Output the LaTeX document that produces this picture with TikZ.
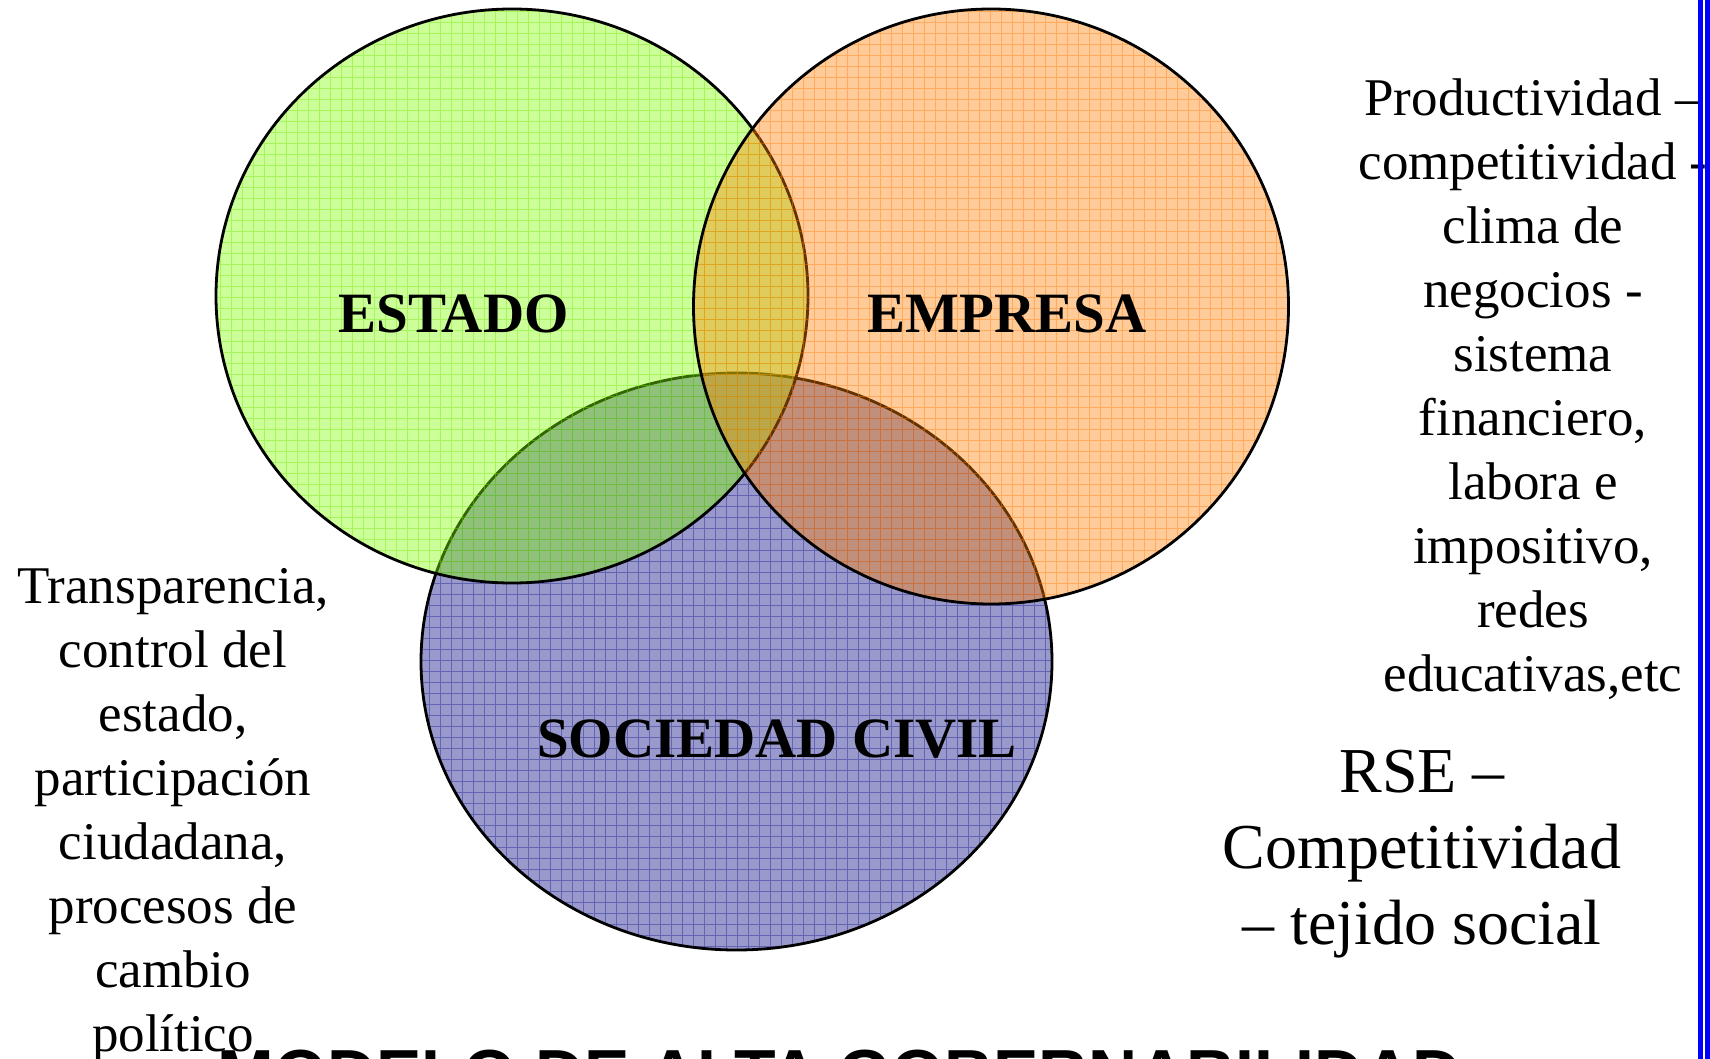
\documentclass[tikz,border=0pt]{standalone}
\usepackage{fontspec}
\setmainfont{Liberation Serif}
\newfontfamily\titlefont{Liberation Sans}
\definecolor{rellenosociedad}{RGB}{153,153,204}
\definecolor{rejillasociedad}{RGB}{100,100,180}
\definecolor{rellenoestado}{RGB}{128,255,0}
\definecolor{rejillaestado}{RGB}{110,230,0}
\definecolor{rellenoempresa}{RGB}{255,128,0}
\definecolor{rejillaempresa}{RGB}{255,120,0}
\definecolor{marco}{RGB}{0,0,255}

\begin{document}
\begin{tikzpicture}[x=1pt,y=-1pt]
\tikzset{circulo/.style={draw=black, line width=2.8pt}}
\tikzset{rejilla/.style={line width=0.8pt, step=11pt}}
\tikzset{etiqueta/.style={font=\fontsize{57}{60}\selectfont\bfseries, anchor=base, inner sep=0pt}}
\tikzset{texto/.style={font=\fontsize{53}{64}\selectfont, align=center, anchor=base, inner sep=0pt}}
\useasboundingbox (0,0) rectangle (1710,1059);
\coordinate (sociedad) at (736.5,661.5);
\coordinate (estado) at (512,296);
\coordinate (empresa) at (991,306.5);
\foreach \n/\rx/\ry/\op in {sociedad/315.5/288.5/1, estado/296/287/0.4, empresa/297.5/297.5/0.4}{
  \begin{scope}
    \clip (\n) ellipse [x radius=\rx pt, y radius=\ry pt];
    \fill[relleno\n, fill opacity=\op] (\n) ellipse [x radius=\rx pt, y radius=\ry pt];
    \draw[rejilla, rejilla\n, draw opacity=\op] (0,0) grid (1710,1059);
  \end{scope}
  \draw[circulo] (\n) ellipse [x radius=\rx pt, y radius=\ry pt];
}
\node[etiqueta] (estadolbl) at (453.5,332) {ESTADO};
\node[etiqueta] (empresalbl) at (1007,332) {EMPRESA};
\node[etiqueta] (sociedadlbl) at (777,757) {SOCIEDAD CIVIL};
\node[texto] (politica) at (173,1051) {Transparencia,\\control del\\estado,\\participación\\ciudadana,\\procesos de\\cambio\\político};
\node[texto] (mercado) at (1533,691) {Productividad –\\competitividad -\\clima de\\negocios -\\sistema\\financiero,\\labora e\\impositivo,\\redes\\educativas,etc};
\node[texto, font=\fontsize{64}{76}\selectfont] (rse) at (1422,944) {RSE –\\Competitividad\\– tejido social};
\node[anchor=base, inner sep=0pt, font=\titlefont\bfseries\fontsize{68}{70}\selectfont] (modelo) at (840,1097) {MODELO DE ALTA GOBERNABILIDAD};
\draw[marco, line width=4.4pt] (1700.5,0) -- (1700.5,1059);
\draw[marco, line width=5pt] (1707,0) -- (1707,1059);
\end{tikzpicture}
\end{document}
